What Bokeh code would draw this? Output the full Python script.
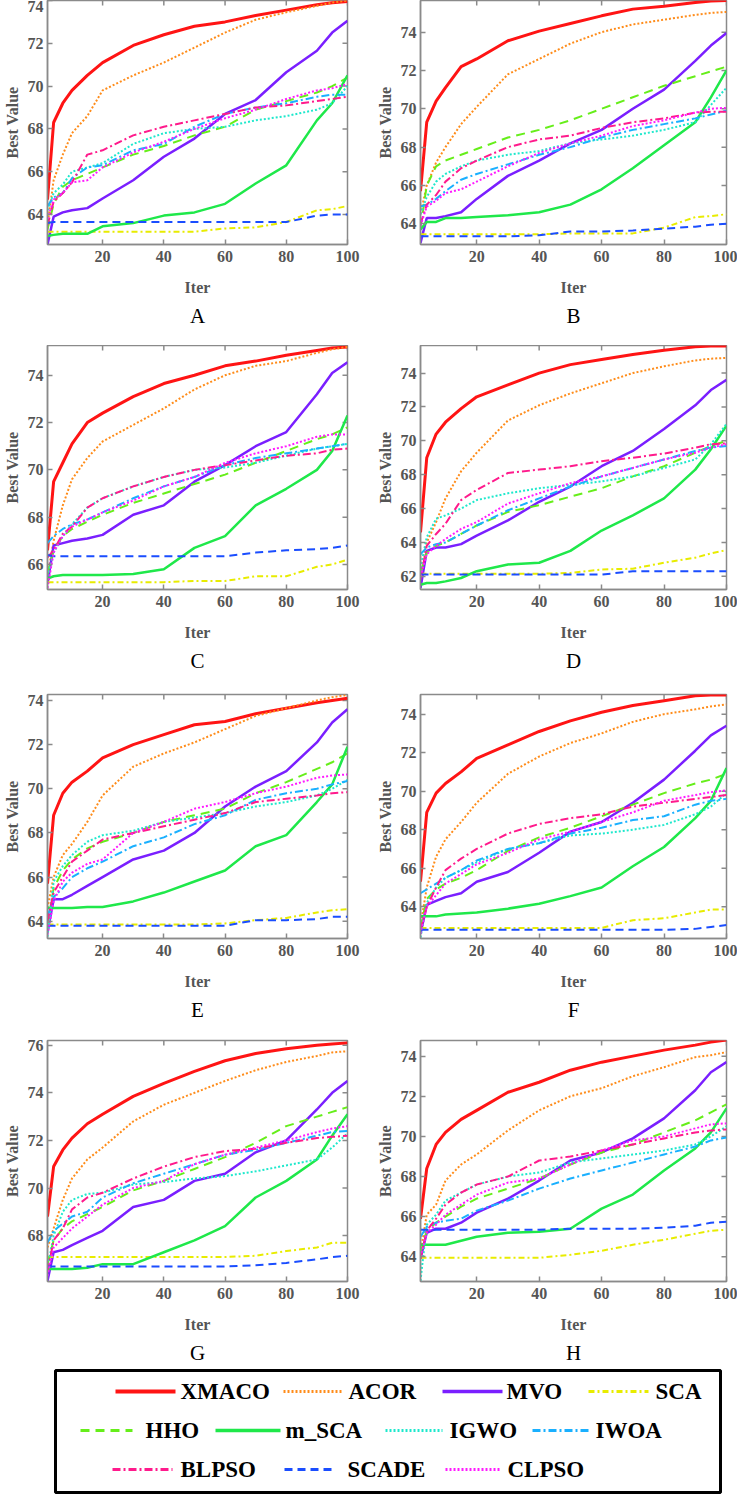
import math
from bokeh.plotting import figure
from bokeh.models import Range1d, FixedTicker, Title
from bokeh.layouts import column, row
from bokeh.embed import file_html
from bokeh.resources import INLINE
from bokeh.core.properties import value

ITER = [2, 4, 7, 10, 15, 20, 30, 40, 50, 60, 70, 80, 90, 95, 100]
XTICKS = [20, 40, 60, 80, 100]

SERIES = ["XMACO", "ACOR", "MVO", "SCA", "HHO", "m_SCA", "IGWO", "IWOA", "BLPSO", "SCADE", "CLPSO"]
KEYS = ["XMACO", "ACOR", "MVO", "SCA", "HHO", "mSCA", "IGWO", "IWOA", "BLPSO", "SCADE", "CLPSO"]
COLORS = ["#ff1414", "#ff8c1a", "#7a1fff", "#e8ec00", "#66ee1a", "#1fe84a", "#1ee8cc", "#1ab0ff", "#ff1a8c", "#1a4dff", "#ff1aff"]
DASHES = ["solid", "2 2", "solid", "6 3 2 3", "9 6", "solid", "2 2", "8 3 2 3", "8 3 2 3", "8 5", "2 2"]
WIDTHS = [3, 2, 2.5, 2, 2, 2.5, 2, 2, 2, 2, 2]

PANELS = ["A", "B", "C", "D", "E", "F", "G", "H"]
YLIM_A, YTICKS_A = (62.6, 74.0), [64, 66, 68, 70, 72, 74]
YLIM_B, YTICKS_B = (62.92, 75.65), [64, 66, 68, 70, 72, 74]
YLIM_C, YTICKS_C = (64.94, 75.26), [66, 68, 70, 72, 74]
YLIM_D, YTICKS_D = (61.22, 75.63), [62, 64, 66, 68, 70, 72, 74]
YLIM_E, YTICKS_E = (63.22, 74.27), [64, 66, 68, 70, 72, 74]
YLIM_F, YTICKS_F = (62.35, 75.02), [64, 66, 68, 70, 72, 74]
YLIM_G, YTICKS_G = (66.07, 76.2), [68, 70, 72, 74, 76]
YLIM_H, YTICKS_H = (62.77, 74.78), [64, 66, 68, 70, 72, 74]

# ---- Panel A
XMACO_A = [64.7, 68.3, 69.2, 69.8, 70.5, 71.1, 71.9, 72.4, 72.8, 73.0, 73.3, 73.55, 73.8, 73.9, 73.95]
ACOR_A = [63.5, 65.6, 66.8, 67.8, 68.6, 69.8, 70.5, 71.1, 71.8, 72.5, 73.1, 73.45, 73.75, 73.9, 74.0]
MVO_A = [62.6, 63.9, 64.1, 64.2, 64.3, 64.75, 65.6, 66.7, 67.55, 68.7, 69.35, 70.65, 71.65, 72.5, 73.05]
SCA_A = [63.2, 63.2, 63.2, 63.2, 63.2, 63.2, 63.2, 63.2, 63.2, 63.35, 63.4, 63.65, 64.2, 64.25, 64.4]
HHO_A = [63.3, 64.5, 65.3, 65.6, 65.9, 66.2, 66.8, 67.2, 67.7, 68.1, 68.9, 69.3, 69.7, 70.0, 70.4]
mSCA_A = [63.0, 63.05, 63.1, 63.1, 63.1, 63.45, 63.6, 63.95, 64.1, 64.5, 65.45, 66.3, 68.4, 69.2, 70.5]
IGWO_A = [64.2, 65.0, 65.4, 66.0, 66.2, 66.4, 67.3, 67.8, 68.0, 68.1, 68.4, 68.6, 68.9, 69.2, 70.0]
IWOA_A = [64.4, 64.8, 65.0, 65.7, 66.2, 66.3, 67.0, 67.3, 68.1, 68.7, 69.0, 69.2, 69.5, 69.6, 69.6]
BLPSO_A = [63.5, 64.6, 65.0, 65.5, 66.8, 67.0, 67.7, 68.1, 68.4, 68.7, 69.0, 69.1, 69.3, 69.4, 69.5]
SCADE_A = [63.6, 63.65, 63.65, 63.65, 63.65, 63.65, 63.65, 63.65, 63.65, 63.65, 63.65, 63.65, 63.95, 64.0, 64.0]
CLPSO_A = [63.8, 64.7, 65.0, 65.5, 65.6, 66.2, 66.9, 67.4, 68.0, 68.5, 68.9, 69.4, 69.8, 69.9, 70.1]

# ---- Panel B
XMACO_B = [65.7, 69.3, 70.4, 71.1, 72.2, 72.6, 73.55, 74.05, 74.45, 74.85, 75.2, 75.35, 75.55, 75.62, 75.65]
ACOR_B = [64.5, 66.0, 67.2, 68.0, 69.2, 70.1, 71.8, 72.6, 73.4, 74.0, 74.4, 74.65, 74.9, 75.0, 75.05]
MVO_B = [63.0, 64.3, 64.3, 64.4, 64.6, 65.3, 66.5, 67.3, 68.2, 68.9, 70.0, 71.0, 72.5, 73.3, 73.95]
SCA_B = [63.45, 63.45, 63.45, 63.45, 63.45, 63.45, 63.45, 63.45, 63.5, 63.5, 63.5, 63.8, 64.35, 64.4, 64.5]
HHO_B = [63.8, 66.0, 67.0, 67.3, 67.6, 67.9, 68.5, 68.9, 69.4, 70.0, 70.6, 71.2, 71.7, 71.95, 72.2]
mSCA_B = [63.7, 64.1, 64.1, 64.3, 64.3, 64.35, 64.45, 64.6, 65.0, 65.8, 66.9, 68.1, 69.3, 70.6, 72.0]
IGWO_B = [64.5, 65.4, 66.2, 66.6, 67.0, 67.3, 67.6, 67.8, 68.2, 68.4, 68.6, 68.9, 69.3, 70.2, 71.1]
IWOA_B = [64.9, 65.0, 65.3, 65.7, 66.3, 66.6, 67.1, 67.6, 68.0, 68.5, 68.9, 69.2, 69.5, 69.7, 69.9]
BLPSO_B = [64.0, 65.0, 65.5, 66.2, 66.9, 67.3, 68.0, 68.4, 68.6, 69.0, 69.3, 69.5, 69.8, 69.85, 69.85]
SCADE_B = [63.35, 63.35, 63.35, 63.35, 63.35, 63.35, 63.35, 63.4, 63.6, 63.6, 63.65, 63.75, 63.85, 63.95, 64.0]
CLPSO_B = [63.9, 64.9, 65.2, 65.6, 65.8, 66.2, 67.0, 67.7, 68.2, 68.6, 69.1, 69.4, 69.8, 70.0, 70.05]

# ---- Panel C
XMACO_C = [66.6, 69.5, 70.3, 71.1, 72.0, 72.4, 73.1, 73.65, 74.0, 74.4, 74.6, 74.85, 75.05, 75.15, 75.2]
ACOR_C = [65.5, 67.0, 68.5, 69.6, 70.5, 71.2, 71.9, 72.6, 73.4, 74.0, 74.4, 74.6, 74.95, 75.1, 75.2]
MVO_C = [65.2, 66.8, 66.9, 67.0, 67.1, 67.25, 68.1, 68.5, 69.5, 70.2, 71.0, 71.6, 73.2, 74.1, 74.55]
SCA_C = [65.25, 65.25, 65.25, 65.25, 65.25, 65.25, 65.25, 65.25, 65.3, 65.3, 65.5, 65.5, 65.9, 66.0, 66.2]
HHO_C = [65.6, 66.6, 67.2, 67.5, 67.8, 68.1, 68.6, 69.0, 69.4, 69.8, 70.3, 70.8, 71.3, 71.5, 71.8]
mSCA_C = [65.4, 65.5, 65.55, 65.55, 65.55, 65.55, 65.6, 65.8, 66.7, 67.2, 68.5, 69.2, 70.0, 70.8, 72.3]
IGWO_C = [65.5, 66.5, 67.2, 67.7, 68.4, 68.8, 69.3, 69.7, 70.0, 70.1, 70.3, 70.6, 70.9, 71.0, 71.1]
IWOA_C = [66.9, 67.2, 67.5, 67.7, 67.9, 68.2, 68.8, 69.3, 69.7, 70.2, 70.5, 70.7, 70.9, 71.0, 71.1]
BLPSO_C = [66.3, 66.6, 67.3, 67.6, 68.4, 68.8, 69.3, 69.7, 70.0, 70.2, 70.4, 70.6, 70.7, 70.85, 70.9]
SCADE_C = [66.4, 66.35, 66.35, 66.35, 66.35, 66.35, 66.35, 66.35, 66.35, 66.35, 66.5, 66.6, 66.65, 66.7, 66.8]
CLPSO_C = [65.0, 66.5, 67.2, 67.6, 67.9, 68.2, 68.7, 69.3, 69.7, 70.3, 70.7, 71.0, 71.4, 71.5, 71.5]

# ---- Panel D
XMACO_D = [64.6, 69.0, 70.4, 71.1, 71.9, 72.6, 73.3, 74.0, 74.5, 74.8, 75.1, 75.35, 75.55, 75.6, 75.6]
ACOR_D = [62.5, 64.0, 65.2, 66.6, 68.2, 69.3, 71.2, 72.1, 72.8, 73.4, 74.0, 74.4, 74.75, 74.85, 74.9]
MVO_D = [61.3, 63.5, 63.7, 63.7, 63.9, 64.4, 65.3, 66.4, 67.3, 68.5, 69.4, 70.7, 72.1, 73.0, 73.6]
SCA_D = [62.15, 62.15, 62.15, 62.15, 62.15, 62.15, 62.15, 62.15, 62.2, 62.4, 62.45, 62.8, 63.1, 63.35, 63.55]
HHO_D = [62.2, 63.4, 63.8, 64.0, 64.5, 65.0, 65.8, 66.2, 66.7, 67.2, 67.9, 68.5, 69.3, 69.7, 70.0]
mSCA_D = [61.5, 61.6, 61.6, 61.7, 61.9, 62.3, 62.7, 62.8, 63.5, 64.7, 65.6, 66.6, 68.3, 69.5, 70.9]
IGWO_D = [62.5, 64.3, 65.4, 65.6, 66.0, 66.5, 66.9, 67.2, 67.4, 67.6, 67.9, 68.4, 68.9, 69.8, 71.0]
IWOA_D = [63.3, 63.7, 63.9, 64.0, 64.5, 65.0, 65.9, 66.6, 67.3, 67.9, 68.4, 68.9, 69.4, 69.6, 69.7]
BLPSO_D = [61.8, 63.8, 64.5, 65.1, 66.5, 67.1, 68.1, 68.3, 68.5, 68.8, 69.0, 69.25, 69.6, 69.8, 69.85]
SCADE_D = [62.1, 62.1, 62.1, 62.1, 62.1, 62.1, 62.1, 62.1, 62.1, 62.1, 62.3, 62.3, 62.3, 62.3, 62.3]
CLPSO_D = [62.0, 63.3, 63.8, 64.2, 64.8, 65.2, 66.3, 66.9, 67.5, 67.9, 68.4, 68.9, 69.3, 69.6, 69.8]

# ---- Panel E
XMACO_E = [65.7, 68.8, 69.8, 70.3, 70.8, 71.4, 72.0, 72.45, 72.9, 73.05, 73.4, 73.65, 73.9, 74.0, 74.1]
ACOR_E = [64.6, 66.0, 67.0, 67.5, 68.5, 69.7, 71.0, 71.6, 72.1, 72.7, 73.3, 73.65, 74.0, 74.15, 74.25]
MVO_E = [63.5, 65.0, 65.0, 65.2, 65.6, 66.0, 66.8, 67.2, 68.0, 69.2, 70.1, 70.8, 72.1, 73.0, 73.6]
SCA_E = [63.85, 63.85, 63.85, 63.85, 63.85, 63.85, 63.85, 63.85, 63.85, 63.9, 64.05, 64.15, 64.4, 64.5, 64.55]
HHO_E = [63.8, 65.5, 66.3, 66.8, 67.3, 67.6, 68.0, 68.5, 68.8, 69.1, 69.8, 70.3, 70.9, 71.2, 71.6]
mSCA_E = [64.6, 64.6, 64.6, 64.6, 64.65, 64.65, 64.9, 65.3, 65.8, 66.3, 67.4, 67.9, 69.4, 70.2, 71.9]
IGWO_E = [63.3, 65.8, 66.5, 67.0, 67.6, 67.9, 68.1, 68.5, 68.7, 68.9, 69.2, 69.4, 69.7, 70.0, 70.4]
IWOA_E = [64.2, 65.1, 65.5, 66.0, 66.4, 66.7, 67.4, 67.8, 68.4, 68.8, 69.5, 69.8, 70.0, 70.2, 70.35]
BLPSO_E = [64.0, 65.3, 66.0, 66.7, 67.2, 67.7, 68.0, 68.3, 68.6, 68.9, 69.4, 69.55, 69.7, 69.8, 69.85]
SCADE_E = [63.8, 63.8, 63.8, 63.8, 63.8, 63.8, 63.8, 63.8, 63.8, 63.8, 64.05, 64.05, 64.1, 64.2, 64.2]
CLPSO_E = [63.4, 64.9, 65.8, 66.2, 66.6, 66.8, 68.0, 68.5, 69.1, 69.4, 69.8, 70.1, 70.5, 70.6, 70.65]

# ---- Panel F
XMACO_F = [65.3, 68.9, 69.9, 70.4, 71.0, 71.7, 72.4, 73.1, 73.65, 74.1, 74.45, 74.7, 74.95, 75.0, 75.0]
ACOR_F = [63.0, 65.0, 66.6, 67.5, 68.4, 69.4, 70.9, 71.8, 72.5, 73.0, 73.6, 74.0, 74.25, 74.4, 74.5]
MVO_F = [62.6, 64.1, 64.3, 64.5, 64.7, 65.3, 65.8, 66.8, 67.9, 68.4, 69.4, 70.6, 72.1, 72.9, 73.4]
SCA_F = [62.9, 62.9, 62.9, 62.9, 62.9, 62.9, 62.9, 62.9, 62.9, 62.9, 63.3, 63.4, 63.7, 63.85, 63.85]
HHO_F = [62.9, 64.4, 64.9, 65.2, 65.5, 65.9, 66.9, 67.6, 68.1, 68.7, 69.3, 69.9, 70.4, 70.6, 70.9]
mSCA_F = [63.5, 63.5, 63.5, 63.6, 63.65, 63.7, 63.9, 64.15, 64.55, 65.0, 66.1, 67.1, 68.6, 69.5, 71.2]
IGWO_F = [62.4, 64.2, 65.0, 65.5, 65.9, 66.3, 67.0, 67.3, 67.7, 67.8, 68.0, 68.25, 68.8, 69.2, 69.9]
IWOA_F = [64.7, 64.9, 65.2, 65.5, 65.9, 66.4, 67.0, 67.3, 67.8, 68.1, 68.5, 68.7, 69.3, 69.5, 69.6]
BLPSO_F = [62.8, 64.0, 65.0, 65.9, 66.5, 67.0, 67.8, 68.3, 68.6, 68.8, 69.2, 69.4, 69.6, 69.7, 69.8]
SCADE_F = [62.8, 62.8, 62.8, 62.8, 62.8, 62.8, 62.8, 62.8, 62.8, 62.8, 62.8, 62.8, 62.85, 62.95, 63.05]
CLPSO_F = [62.6, 64.0, 64.6, 65.2, 65.7, 66.2, 66.8, 67.5, 67.9, 68.4, 68.9, 69.5, 69.8, 69.95, 70.05]

# ---- Panel G
XMACO_G = [68.8, 70.9, 71.6, 72.1, 72.7, 73.1, 73.85, 74.4, 74.9, 75.35, 75.65, 75.85, 76.0, 76.05, 76.1]
ACOR_G = [67.5, 68.3, 69.5, 70.4, 71.2, 71.7, 72.8, 73.5, 74.0, 74.5, 74.95, 75.3, 75.55, 75.7, 75.75]
MVO_G = [66.1, 67.3, 67.4, 67.6, 67.9, 68.2, 69.2, 69.5, 70.3, 70.6, 71.5, 72.0, 73.3, 74.0, 74.5]
SCA_G = [67.1, 67.1, 67.1, 67.1, 67.1, 67.1, 67.1, 67.1, 67.1, 67.1, 67.15, 67.35, 67.5, 67.7, 67.7]
HHO_G = [66.8, 67.8, 68.3, 68.6, 68.9, 69.2, 69.9, 70.3, 70.8, 71.3, 71.9, 72.6, 73.0, 73.2, 73.4]
mSCA_G = [66.6, 66.6, 66.6, 66.6, 66.65, 66.8, 66.8, 67.3, 67.8, 68.4, 69.6, 70.3, 71.2, 72.2, 73.1]
IGWO_G = [66.6, 68.0, 69.0, 69.5, 69.75, 69.8, 70.15, 70.25, 70.4, 70.5, 70.7, 70.95, 71.2, 71.7, 72.3]
IWOA_G = [67.7, 68.2, 68.5, 68.8, 69.0, 69.6, 70.2, 70.6, 71.0, 71.4, 71.6, 71.9, 72.2, 72.35, 72.4]
BLPSO_G = [66.5, 67.8, 68.3, 69.1, 69.6, 69.8, 70.4, 70.9, 71.3, 71.55, 71.65, 71.9, 72.1, 72.15, 72.2]
SCADE_G = [66.7, 66.7, 66.7, 66.7, 66.7, 66.7, 66.7, 66.7, 66.7, 66.7, 66.75, 66.85, 67.0, 67.1, 67.15]
CLPSO_G = [66.3, 67.5, 67.9, 68.3, 68.8, 69.3, 70.0, 70.3, 71.0, 71.4, 71.7, 72.0, 72.35, 72.5, 72.6]

# ---- Panel H
XMACO_H = [65.9, 68.4, 69.6, 70.2, 70.85, 71.3, 72.2, 72.7, 73.3, 73.7, 74.0, 74.3, 74.55, 74.7, 74.8]
ACOR_H = [64.2, 66.1, 66.6, 67.8, 68.6, 69.1, 70.3, 71.3, 72.0, 72.4, 73.0, 73.45, 73.95, 74.05, 74.2]
MVO_H = [63.9, 65.2, 65.4, 65.4, 65.7, 66.2, 66.9, 67.8, 68.8, 69.2, 69.9, 70.9, 72.3, 73.2, 73.7]
SCA_H = [63.95, 63.95, 63.95, 63.95, 63.95, 63.95, 63.95, 63.95, 64.1, 64.3, 64.6, 64.85, 65.15, 65.3, 65.35]
HHO_H = [64.2, 65.3, 65.7, 66.0, 66.5, 66.9, 67.4, 67.9, 68.6, 69.2, 69.6, 70.2, 70.8, 71.2, 71.6]
mSCA_H = [64.6, 64.6, 64.6, 64.6, 64.8, 65.0, 65.2, 65.25, 65.4, 66.4, 67.1, 68.3, 69.4, 70.2, 71.4]
IGWO_H = [62.8, 65.6, 66.1, 66.8, 67.2, 67.6, 68.0, 68.2, 68.7, 68.9, 69.1, 69.3, 69.6, 70.0, 70.5]
IWOA_H = [65.0, 65.5, 65.7, 65.8, 65.9, 66.3, 66.8, 67.4, 67.9, 68.3, 68.7, 69.1, 69.5, 69.8, 69.95]
BLPSO_H = [63.9, 65.3, 65.9, 66.6, 67.2, 67.6, 68.0, 68.8, 69.0, 69.3, 69.6, 69.9, 70.2, 70.3, 70.35]
SCADE_H = [65.35, 65.35, 65.35, 65.35, 65.35, 65.35, 65.35, 65.35, 65.4, 65.4, 65.4, 65.45, 65.55, 65.7, 65.75]
CLPSO_H = [64.0, 65.2, 65.6, 66.1, 66.6, 67.1, 67.7, 67.9, 68.6, 69.3, 69.8, 70.0, 70.4, 70.6, 70.65]

FONT = "'Liberation Serif', 'DejaVu Serif', serif"
FONT_REG = "'Liberation Serif', serif"
FRAME = "#8a8a8a"
LABEL = "#555555"

G = globals()


def make_panel(key, left_col, height, top, frame_h):
    width = 367 if left_col else 370
    ylo, yhi = G["YLIM_" + key]
    yticks = G["YTICKS_" + key]
    p = figure(width=width, height=height,
               x_range=Range1d(2, 100), y_range=Range1d(ylo, yhi),
               output_backend="svg", toolbar_location=None,
               min_border_left=39 if left_col else 53,
               min_border_right=20 if left_col else 11,
               min_border_top=top, min_border_bottom=height - frame_h - top)
    p.title.text = ""
    p.xgrid.visible = False
    p.ygrid.visible = False
    p.outline_line_color = FRAME
    p.outline_line_width = 1.5
    p.background_fill_color = "white"
    p.border_fill_color = "white"

    for ax, ticks in ((p.xaxis[0], XTICKS), (p.yaxis[0], yticks)):
        ax.ticker = FixedTicker(ticks=ticks)
        ax.axis_line_color = FRAME
        ax.axis_line_width = 1.5
        ax.major_tick_line_color = FRAME
        ax.major_tick_line_width = 1.5
        ax.major_tick_in = 5
        ax.major_tick_out = 0
        ax.minor_tick_line_color = None
        ax.major_label_text_font = FONT
        ax.major_label_text_font_style = "bold"
        ax.major_label_text_font_size = "16px"
        ax.major_label_text_color = LABEL
        ax.axis_label_text_font = FONT
        ax.axis_label_text_font_style = "bold"
        ax.axis_label_text_font_size = "16px"
        ax.axis_label_text_color = LABEL
    p.xaxis[0].major_label_standoff = 6
    p.xaxis[0].axis_label_standoff = 14
    p.yaxis[0].major_label_standoff = 4
    p.yaxis[0].axis_label_standoff = 4
    p.xaxis[0].axis_label = "Iter"
    p.yaxis[0].axis_label = "Best Value"

    # tick marks on the top and right edges of the box (inward half of a dash marker)
    p.scatter(XTICKS, [yhi] * len(XTICKS), marker="dash", size=10, angle=math.pi / 2,
              line_color=FRAME, line_width=1.5)
    p.scatter([100] * len(yticks), yticks, marker="dash", size=10,
              line_color=FRAME, line_width=1.5)

    for name, k, c, d, w in zip(SERIES, KEYS, COLORS, DASHES, WIDTHS):
        p.line(ITER, G[k + "_" + key], line_color=c, line_dash=d, line_width=w)

    t = Title(text=key, align="center", text_font=FONT_REG, text_font_size="21px",
              text_font_style="normal", text_color="black", standoff=7)
    p.add_layout(t, "below")
    return p


ROW_HEIGHTS = [345, 346, 345, 332]
ROW_TOPS = [0, 0, 3, 4]
FRAME_HS = [244, 244, 244, 244]
rows = []
for r in range(4):
    h, tp, fh = ROW_HEIGHTS[r], ROW_TOPS[r], FRAME_HS[r]
    rows.append(row(make_panel(PANELS[2 * r], True, h, tp, fh),
                    make_panel(PANELS[2 * r + 1], False, h, tp, fh)))

# ---- legend
LEG_H = 126
LEG_ROW = [0, 0, 0, 0, 1, 1, 1, 1, 2, 2, 2]
LEG_ROW_Y = [23, 62, 101]
LEG_X0 = [115, 283, 442, 588, 80, 215, 385, 532, 112, 284, 445]
LEG_X1 = [175, 341, 502, 648, 132, 280, 442, 589, 172, 332, 500]
LEG_TX = [180, 348, 506, 655, 145, 285, 449, 595, 180, 347, 507]

leg = figure(width=737, height=LEG_H, x_range=Range1d(0, 737), y_range=Range1d(LEG_H, 0),
             output_backend="svg", toolbar_location=None, x_axis_type=None, y_axis_type=None,
             min_border=0, min_border_left=0, min_border_right=0, min_border_top=0, min_border_bottom=0)
leg.title.text = ""
leg.xgrid.visible = False
leg.ygrid.visible = False
leg.outline_line_color = None
leg.quad(left=[55], right=[720], top=[2], bottom=[124], fill_color=None,
         line_color="black", line_width=3)
for i, name in enumerate(SERIES):
    y = LEG_ROW_Y[LEG_ROW[i]]
    leg.line([LEG_X0[i], LEG_X1[i]], [y, y], line_color=COLORS[i], line_dash=DASHES[i],
             line_width=WIDTHS[i] + 1)
    leg.text([LEG_TX[i]], [y], text=[name], text_font=value(FONT), text_font_style="bold",
             text_font_size="23px", text_color="black", text_baseline="middle", text_align="left")

layout = column(*rows, leg)
open("out.html", "w").write(file_html(layout, INLINE))
